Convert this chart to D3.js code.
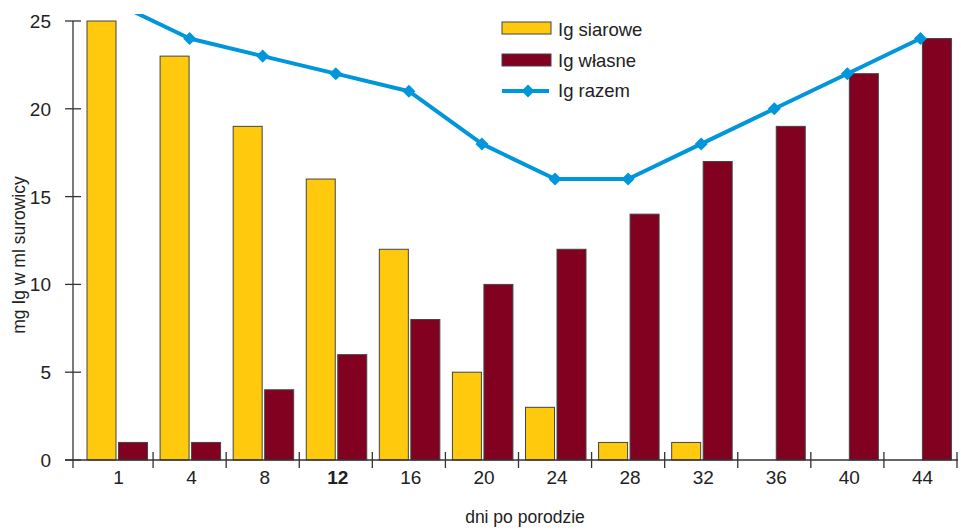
<!DOCTYPE html>
<html><head><meta charset="utf-8">
<script src="https://cdn.jsdelivr.net/npm/d3@7/dist/d3.min.js"></script>
<style>body{margin:0;background:#fff;}svg{display:block;font-family:"Liberation Sans",Arial,sans-serif;}</style>
</head><body>
<svg id="c" width="961" height="530"></svg>
<script>
const categories = ["1","4","8","12","16","20","24","28","32","36","40","44"];
const igSiarowe = [25,23,19,16,12,5,3,1,1,0,0,0];
const igWlasne = [1,1,4,6,8,10,12,14,17,19,22,24];
const igRazem = [26,24,23,22,21,18,16,16,18,20,22,24];
const yTicks = [0,5,10,15,20,25];
const seriesNames = ["Ig siarowe","Ig własne","Ig razem"];
const colors = {s:"#FFC90E", w:"#820020", r:"#0096DB"};

const svg = d3.select("#c");
const x = d3.scaleBand().domain(categories).range([80,957]).paddingInner(0).paddingOuter(0);
const y = d3.scaleLinear().domain([0,25]).range([460,21]);
const bw = x.bandwidth();
const barW = 29, off1 = 7, off2 = 38.5;

svg.append("defs").append("clipPath").attr("id","clip")
  .append("rect").attr("x",60).attr("y",14).attr("width",900).attr("height",460);

const g = svg.append("g");
g.selectAll(".bs").data(categories).join("rect")
  .attr("x",d=>x(d)+off1).attr("width",barW)
  .attr("y",(d,i)=>y(igSiarowe[i])).attr("height",(d,i)=>y(0)-y(igSiarowe[i]))
  .attr("fill",colors.s).attr("stroke","#444").attr("stroke-width",1)
  .style("display",(d,i)=>igSiarowe[i]>0?null:"none");
g.selectAll(".bw").data(categories).join("rect")
  .attr("x",d=>x(d)+off2).attr("width",barW)
  .attr("y",(d,i)=>y(igWlasne[i])).attr("height",(d,i)=>y(0)-y(igWlasne[i]))
  .attr("fill",colors.w).attr("stroke","#444").attr("stroke-width",1);

const ax = svg.append("g").attr("stroke","#333").attr("stroke-width",1.3);
ax.append("line").attr("x1",73).attr("x2",73).attr("y1",y(25)).attr("y2",468);
ax.append("line").attr("x1",65).attr("x2",958).attr("y1",y(0)).attr("y2",y(0));
yTicks.forEach(t=>{
  ax.append("line").attr("x1",65).attr("x2",81).attr("y1",y(t)).attr("y2",y(t));
});
categories.map(c=>x(c)+bw).forEach(b=>{
  ax.append("line").attr("x1",b).attr("x2",b).attr("y1",452).attr("y2",468);
});
const tl = svg.append("g").attr("fill","#222");
yTicks.forEach(t=>{
  tl.append("text").attr("x",51).attr("y",y(t)+7).attr("text-anchor","end").attr("font-size",19).text(t);
});
categories.forEach(c=>{
  tl.append("text").attr("x",x(c)+bw/2+2).attr("y",484).attr("text-anchor","middle").attr("font-size",19)
    .attr("font-weight",c==="12"?"600":null).text(c);
});
tl.append("text").attr("x",525).attr("y",523).attr("text-anchor","middle").attr("font-size",17.5).text("dni po porodzie");
tl.append("text").attr("transform","translate(25,255) rotate(-90)").attr("text-anchor","middle").attr("font-size",17.5).text("mg Ig w ml surowicy");

const lg = svg.append("g").attr("clip-path","url(#clip)");
const pts = categories.map((c,i)=>[x(c)+bw/2,y(igRazem[i])]);
lg.append("path").attr("d",d3.line()(pts)).attr("fill","none")
  .attr("stroke",colors.r).attr("stroke-width",4).attr("stroke-linejoin","round");
const diamond = d3.symbol().type(d3.symbolSquare).size(85);
lg.selectAll(".pt").data(pts).join("path")
  .attr("transform",d=>`translate(${d[0]},${d[1]}) rotate(45)`).attr("d",diamond).attr("fill",colors.r);

const leg = svg.append("g").attr("font-size",18.5).attr("fill","#222");
leg.append("rect").attr("x",502).attr("y",22).attr("width",49).attr("height",12).attr("fill",colors.s).attr("stroke","#444");
leg.append("text").attr("x",558).attr("y",36).text(seriesNames[0]);
leg.append("rect").attr("x",502).attr("y",54).attr("width",49).attr("height",12).attr("fill",colors.w).attr("stroke","#444");
leg.append("text").attr("x",558).attr("y",67).text(seriesNames[1]);
leg.append("line").attr("x1",502).attr("x2",549).attr("y1",91).attr("y2",91).attr("stroke",colors.r).attr("stroke-width",4);
leg.append("path").attr("transform","translate(528,91) rotate(45)").attr("d",diamond).attr("fill",colors.r);
leg.append("text").attr("x",558).attr("y",97).text(seriesNames[2]);
</script>
</body></html>
